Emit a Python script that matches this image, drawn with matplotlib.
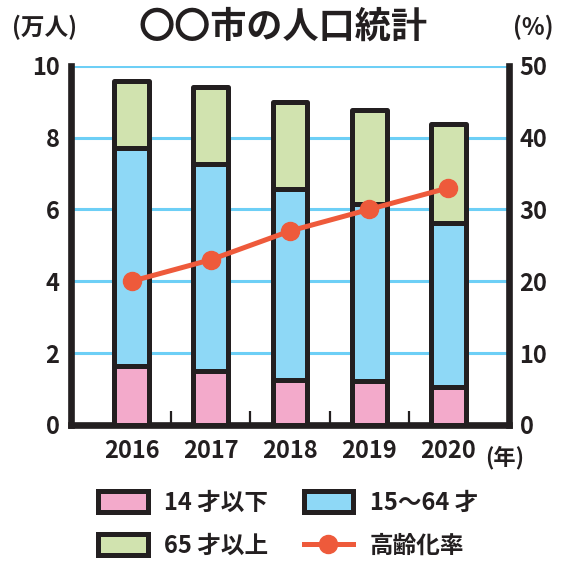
import matplotlib
matplotlib.use("Agg")
import matplotlib.pyplot as plt
import numpy as np

plt.rcParams['font.family'] = ['Noto Sans CJK JP', 'DejaVu Sans']
plt.rcParams['font.weight'] = 'bold'

years = ['2016', '2017', '2018', '2019', '2020']
young = [1.63, 1.50, 1.26, 1.23, 1.07]      # 14才以下 (万人)
working = [6.07, 5.76, 5.31, 4.93, 4.55]    # 15~64才
elderly = [1.87, 2.14, 2.42, 2.62, 2.76]    # 65才以上
aging_rate = [20, 23, 27, 30, 33]           # 高齢化率 (%)

dark = '#231f20'
c_pink = '#f3aacb'
c_blue = '#8ed8f6'
c_green = '#d1e3af'
c_line = '#ee5a3b'
c_grid = '#6dcff6'

fig = plt.figure(figsize=(5.68, 5.65), dpi=100)
ax = fig.add_axes([70.7/568, 1-425/565, (508.5-70.7)/568, (425-65.7)/565])

x = np.arange(len(years))
w = 0.44
bot2 = np.array(young) + np.array(working)
style = dict(edgecolor=dark, linewidth=3.6, joinstyle='round', zorder=3)
b1 = ax.bar(x, young, w, color=c_pink, **style)
b3 = ax.bar(x, elderly, w, bottom=bot2, color=c_green, **style)
b2 = ax.bar(x, working, w, bottom=young, color=c_blue, **style)

ax.set_xlim(-0.77, 4.76)
ax.set_ylim(0, 10)
ax.set_yticks(range(0, 11, 2))
ax.yaxis.grid(True, color=c_grid, linewidth=2.2, zorder=0)
ax.set_axisbelow(True)
ax.set_xticks(x)
ax.set_xticklabels(years)
ax.set_xticks([0.5, 1.5, 2.5, 3.5], minor=True)
ax.tick_params(axis='x', which='major', length=0, pad=10, labelsize=17, labelcolor=dark)
ax.tick_params(axis='x', which='minor', direction='in', length=10, width=1.6, color=dark)
ax.tick_params(axis='y', length=0, pad=8, labelsize=17, labelcolor=dark)
for s in ['left', 'bottom']:
    ax.spines[s].set_linewidth(4.8)
    ax.spines[s].set_color(dark)
ax.spines['top'].set_visible(False)
ax.spines['right'].set_visible(False)

ax2 = ax.twinx()
ax2.set_ylim(0, 50)
ax2.set_yticks(range(0, 51, 10))
ln, = ax2.plot(x, aging_rate, color=c_line, linewidth=3.6, marker='o',
               markersize=13, zorder=5)
ax2.tick_params(axis='y', length=0, pad=8, labelsize=17, labelcolor=dark)
ax2.spines['right'].set_linewidth(4.8)
ax2.spines['right'].set_color(dark)
for s in ['left', 'bottom', 'top']:
    ax2.spines[s].set_visible(False)

fig.text(283/568, 1-27/565, '〇〇市の人口統計', ha='center', va='center',
         fontsize=26, fontweight='bold', color=dark)
fig.text(45/568, 1-27/565, '(万人)', ha='center', va='center', fontsize=17, color=dark)
fig.text(533/568, 1-27/565, '(%)', ha='center', va='center', fontsize=17, color=dark)
fig.text(505/568, 1-458/565, '(年)', ha='center', va='center', fontsize=16, color=dark)

handles = [b1, b3, b2, ln]
labels = ['14 才以下', '65 才以上', '15〜64 才', '高齢化率']
fig.legend(handles, labels, loc='upper left', bbox_to_anchor=(98/568, 1-491/565),
           ncol=2, frameon=False, fontsize=17, handlelength=2.1, handleheight=1.0,
           handletextpad=0.7, columnspacing=1.5, labelspacing=0.8,
           borderpad=0, borderaxespad=0, labelcolor=dark)

fig.savefig('out.png', dpi=100)
